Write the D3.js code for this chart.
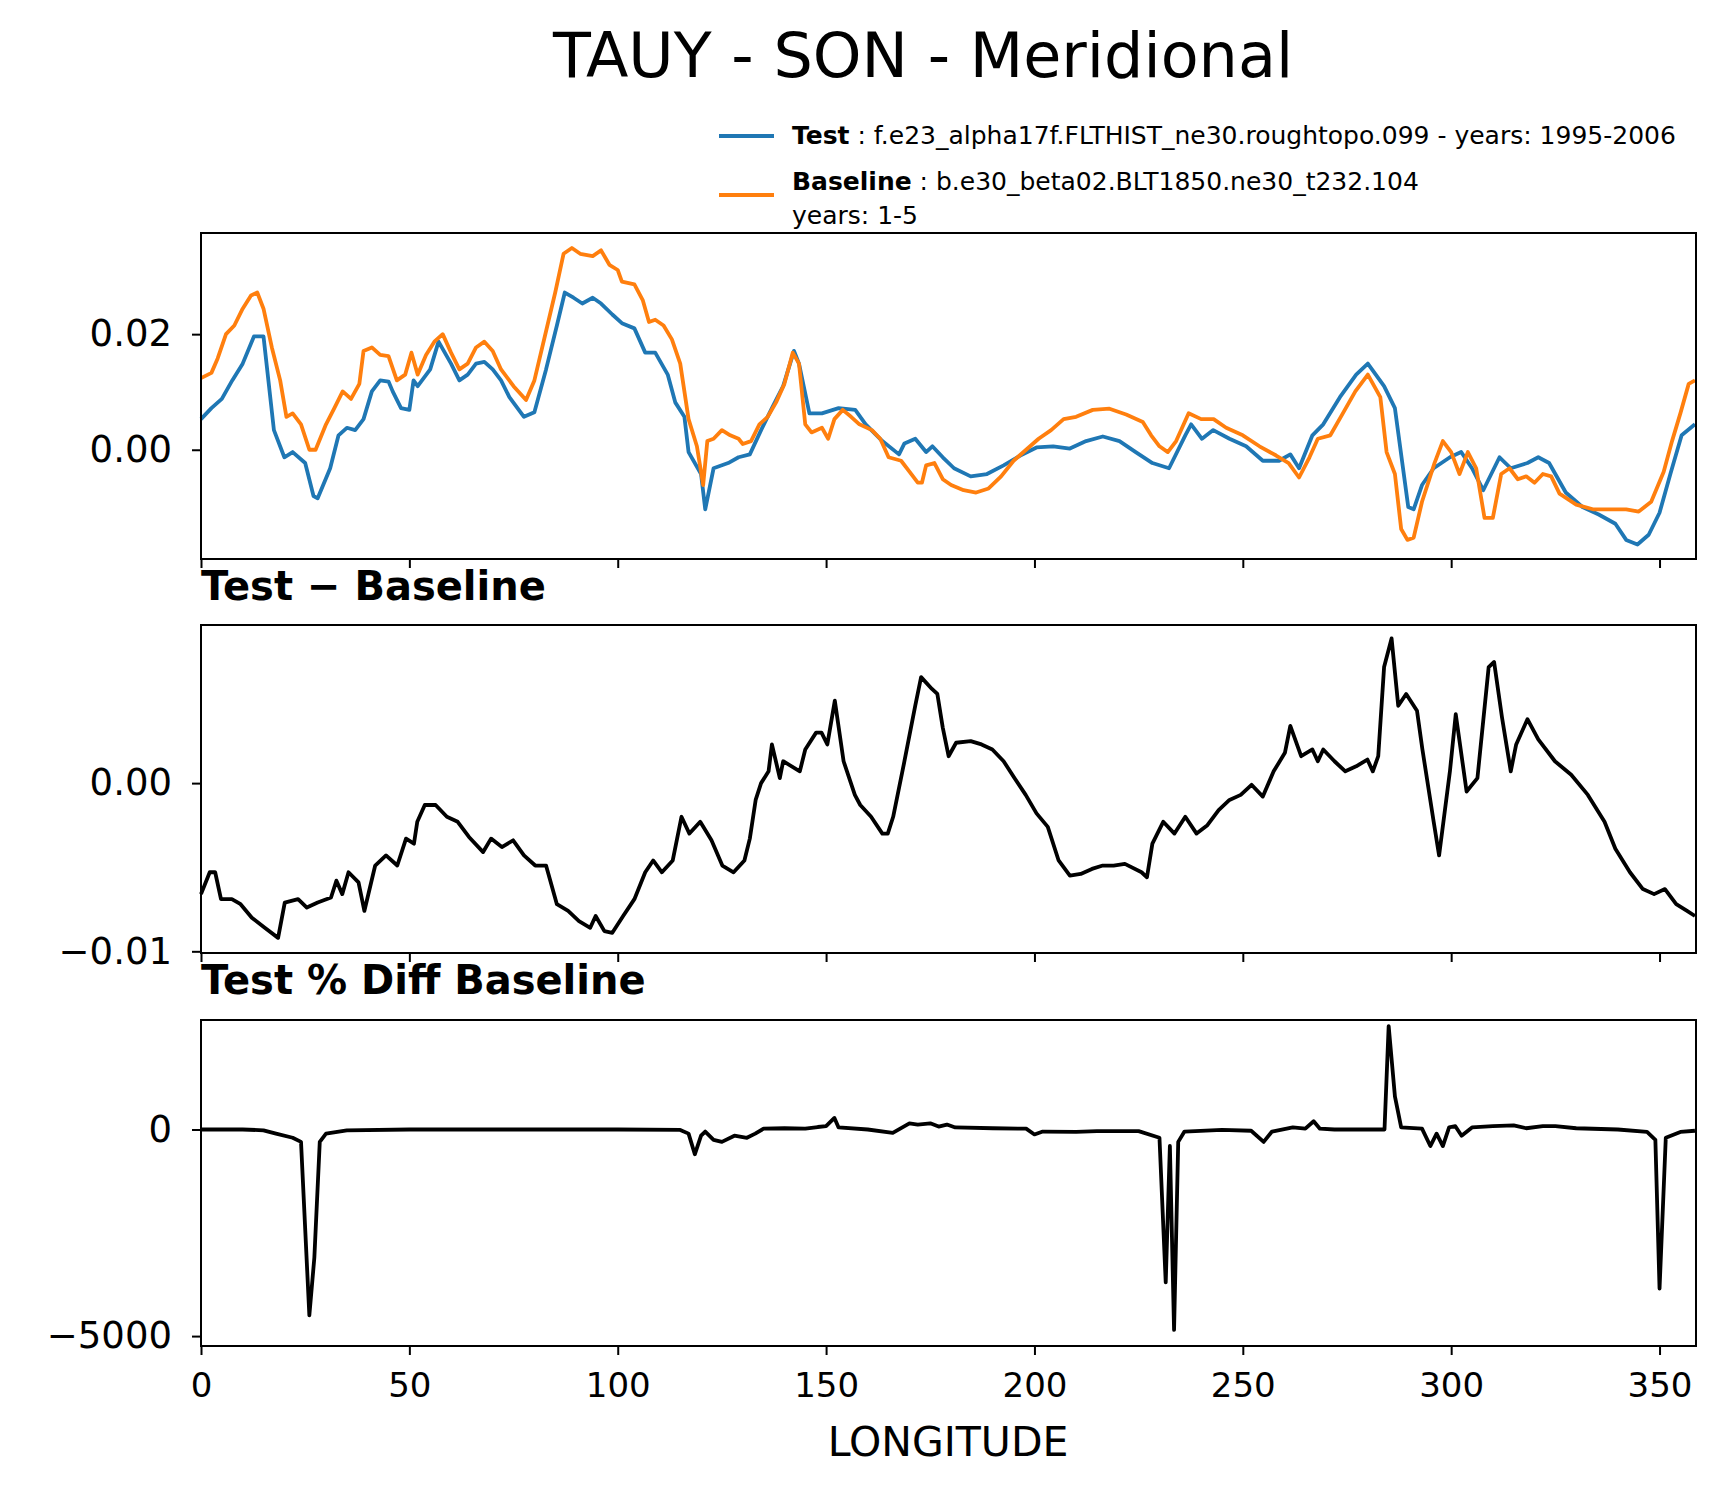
<!DOCTYPE html>
<html>
<head>
<meta charset="utf-8">
<script src="https://cdn.jsdelivr.net/npm/d3@7"></script>
<style>
  body { margin: 0; background: #fff; }
  svg { display: block; font-family: "DejaVu Sans", sans-serif; }
</style>
</head>
<body>
<svg id="chart" width="1721" height="1496"></svg>
<script>
// --- data ---
const testLon = [0,2.5,5,7.5,10,12.7,15,17.5,20,22,25,27,28,31,33,35,37,39,41,43,45,46,48,50,51,52,55,57,60,62,64,66,68,70,72,74,77.5,80,82.8,85.4,87.3,89.4,91.5,94,96,98.7,101,104,106.6,109,112,113.8,116,117,120,121,123,126.5,129,131.7,134.4,137,139.7,142.3,143.5,146,149,153,157,159.5,163.5,167.5,168.8,171.4,174,175.5,178,180.7,184.7,188.6,192.6,196.6,200.5,204.5,208.5,212.4,216.4,220.4,224.3,228.3,232.3,236.2,237.6,240.2,242.9,246.8,250.8,254.8,258.7,261.4,263.5,266.7,269.3,273.3,277.2,280,283.9,286.5,289.7,291,293,295.8,299.7,302.4,305,307.7,311.6,314.3,318.3,320.9,323.5,327.5,331.5,335.4,339.4,342,344.7,347.4,350,352.6,355.3,358.5];
const testVal = [0.0053,0.0072,0.0088,0.0120,0.0149,0.0196,0.0196,0.0034,-0.0013,-0.0004,-0.0023,-0.0080,-0.0084,-0.0032,0.0025,0.0038,0.0034,0.0053,0.0101,0.0120,0.0118,0.0101,0.0072,0.0069,0.0120,0.0110,0.0139,0.0187,0.0149,0.0120,0.0130,0.0149,0.0152,0.0139,0.0120,0.0091,0.0057,0.0065,0.0139,0.0215,0.0272,0.0263,0.0253,0.0263,0.0253,0.0234,0.0219,0.0210,0.0168,0.0168,0.0130,0.0082,0.0057,-0.0004,-0.0042,-0.0103,-0.0032,-0.0023,-0.0013,-0.0008,0.0034,0.0072,0.0110,0.0171,0.0149,0.0063,0.0063,0.0072,0.0069,0.0044,0.0015,-0.0008,0.0011,0.0019,-0.0004,0.0006,-0.0013,-0.0032,-0.0046,-0.0042,-0.0027,-0.0010,0.0004,0.0006,0.0002,0.0015,0.0023,0.0015,-0.0004,-0.0023,-0.0032,0.0025,0.0044,0.0019,0.0034,0.0019,0.0006,-0.0019,-0.0019,-0.0008,-0.0032,0.0025,0.0044,0.0091,0.0130,0.0149,0.0110,0.0072,-0.0099,-0.0103,-0.0061,-0.0032,-0.0013,-0.0004,-0.0032,-0.0070,-0.0013,-0.0032,-0.0023,-0.0013,-0.0023,-0.0074,-0.0099,-0.0112,-0.0128,-0.0156,-0.0164,-0.0147,-0.0109,-0.0042,0.0025,0.0044];

const baseLon = [0,2.5,4,6,8,10,12,13.5,15,17,19,20.5,22,24,26,27.5,30,32,34,36,38,39,41,43,45,47,49,50.5,52,54,56,58,60,62,64,66,68,70,72,75,78,80,82.5,85,87,89,91,94,96,98,100,101,104,106,107.5,109,111,113,115,117,119,120.5,121.5,123,125,127,129,130,132,134,136,138,140,142,143.5,145,146.5,149,150.5,152,154,156,158,161,163,165,168,170,172,173,174,176,178,180,183,186,189,192,195,198,201,204,207,210,214,218,222,226,228,230,232,234,237,240,243,246,250,254,258,261,263.5,266,268,271,274,277,280,283,284.5,286.5,288,289.5,291,293,296,298,300,302,304,306,308,310,312,314,316,318,320,322,324,326,330,334,338,342,345,348,351,353,355,357,358.5];
const baseVal = [0.0124,0.0133,0.0158,0.0200,0.0215,0.0244,0.0267,0.0272,0.0244,0.0177,0.0120,0.0057,0.0063,0.0044,0.0,0.0,0.0044,0.0072,0.0101,0.0088,0.0114,0.0171,0.0177,0.0164,0.0162,0.0120,0.0130,0.0168,0.0130,0.0164,0.0187,0.0200,0.0168,0.0139,0.0149,0.0177,0.0187,0.0171,0.0139,0.0110,0.0086,0.0120,0.0196,0.0272,0.0339,0.0349,0.0339,0.0335,0.0345,0.0320,0.0311,0.0291,0.0286,0.0259,0.0221,0.0225,0.0215,0.0191,0.0149,0.0053,0.0006,-0.0061,0.0015,0.0019,0.0034,0.0025,0.0019,0.0010,0.0015,0.0044,0.0057,0.0082,0.0114,0.0168,0.0149,0.0044,0.0030,0.0038,0.0019,0.0053,0.0069,0.0057,0.0044,0.0034,0.0019,-0.0013,-0.0019,-0.0038,-0.0057,-0.0057,-0.0027,-0.0023,-0.0051,-0.0061,-0.0070,-0.0074,-0.0067,-0.0046,-0.0019,0.0,0.0019,0.0034,0.0053,0.0057,0.0069,0.0071,0.0061,0.0048,0.0025,0.0006,-0.0004,0.0015,0.0063,0.0053,0.0053,0.0038,0.0025,0.0006,-0.0010,-0.0023,-0.0048,-0.0013,0.0019,0.0025,0.0063,0.0101,0.0130,0.0091,-0.0004,-0.0042,-0.0137,-0.0156,-0.0152,-0.0090,-0.0023,0.0015,-0.0004,-0.0042,-0.0004,-0.0032,-0.0118,-0.0118,-0.0042,-0.0032,-0.0051,-0.0046,-0.0057,-0.0042,-0.0046,-0.0076,-0.0095,-0.0103,-0.0103,-0.0103,-0.0107,-0.0090,-0.0038,0.0015,0.0063,0.0114,0.0120];

const diffLon = [0,2.1,3.4,4.8,7.4,9.5,12.2,15.3,18.5,20.1,23.3,25.4,28,31.2,32.5,33.9,35.4,37.8,39.2,41.8,44.4,47.1,49.2,51.1,51.9,53.7,56.3,59,61.6,64.3,67.7,69.6,72.2,74.9,77.5,80.2,82.8,85.4,88.1,90.7,93.4,94.7,96.8,98.7,101.3,104,106.6,108.5,110.6,113.2,115.3,117.2,119.8,122.5,125.1,127.8,130.4,131.7,133.1,134.4,136.2,137,138.9,139.7,143.7,145,147.6,148.9,150.3,152.1,154.2,156.9,158.2,160.8,163.5,164.8,166.1,168.8,171.4,172.8,175.4,176.7,178,179.4,181.2,184.7,187.3,189.9,192.6,195.2,197.9,200.5,203.2,205.8,208.5,211.1,213.8,216.4,219,221.7,225.7,227,228.3,230.9,233.6,236.2,238.9,241.5,244.2,246.8,249.5,252.1,254.8,257.4,260.1,261.4,264,266.7,268,269.3,272,274.6,277.2,279.9,281.2,282.5,283.9,285.7,287.3,289.2,291.8,293.1,295.8,297.1,299.7,301.1,303.7,306.3,309,310.3,312.2,314.3,315.6,318.3,320.9,324.9,328.8,332.8,336.8,339.4,342.9,346,348.7,351.3,354,356.6,358.5];
const diffVal = [-0.0066,-0.0053,-0.0053,-0.0069,-0.0069,-0.0072,-0.0080,-0.0086,-0.0092,-0.0071,-0.0069,-0.0074,-0.0071,-0.0068,-0.0058,-0.0066,-0.0053,-0.0059,-0.0076,-0.0049,-0.0043,-0.0049,-0.0033,-0.0036,-0.0023,-0.0013,-0.0013,-0.0020,-0.0023,-0.0032,-0.0041,-0.0033,-0.0038,-0.0034,-0.0043,-0.0049,-0.0049,-0.0072,-0.0076,-0.0082,-0.0086,-0.0079,-0.0088,-0.0089,-0.0079,-0.0069,-0.0053,-0.0046,-0.0053,-0.0046,-0.0020,-0.0030,-0.0023,-0.0034,-0.0049,-0.0053,-0.0046,-0.0033,-0.0010,0.0,0.0007,0.0023,0.0003,0.0013,0.0007,0.0020,0.0030,0.0030,0.0023,0.0049,0.0013,-0.0007,-0.0013,-0.0020,-0.0030,-0.0030,-0.0020,0.0013,0.0046,0.0063,0.0056,0.0053,0.0033,0.0016,0.0024,0.0025,0.0023,0.0020,0.0013,0.0003,-0.0007,-0.0018,-0.0026,-0.0046,-0.0055,-0.0054,-0.0051,-0.0049,-0.0049,-0.0048,-0.0053,-0.0056,-0.0036,-0.0023,-0.0030,-0.0020,-0.0030,-0.0025,-0.0016,-0.0010,-0.0007,-0.0001,-0.0008,0.0007,0.0018,0.0034,0.0016,0.0020,0.0013,0.0020,0.0013,0.0007,0.0010,0.0014,0.0007,0.0016,0.0069,0.0086,0.0046,0.0053,0.0043,0.0020,-0.0023,-0.0043,0.0007,0.0041,-0.0005,0.0003,0.0069,0.0072,0.0039,0.0007,0.0023,0.0038,0.0026,0.0013,0.0005,-0.0007,-0.0023,-0.0039,-0.0053,-0.0063,-0.0066,-0.0063,-0.0072,-0.0076,-0.0079];

const pctLon = [0,10,15,18,22,24,26,27.2,28.5,30,35,50,100,115,117,118.5,120,121,123,125,128,131,133,135,140,145,148,150,152,153,160,166,170,172,175,177,179,181,190,198,200,202,210,215,225,230,231.5,232.5,233.5,234.5,236,245,252,255,257,262,265,267,268.5,272,284,285,286.5,288,293,295,296.5,298,299.5,301,302.5,305,310,315,318,322,325,330,340,347,349,350,351.5,355,358.5];
const pctVal = [0,0,-20,-100,-200,-300,-4500,-3100,-300,-100,-20,0,0,-10,-100,-600,-150,-50,-250,-300,-150,-200,-100,20,30,20,60,80,280,50,0,-80,150,120,150,70,120,50,30,20,-120,-50,-60,-40,-40,-200,-3700,-400,-4850,-300,-50,-10,-30,-300,-50,50,20,200,20,0,0,2500,800,50,20,-400,-100,-400,50,80,-150,50,80,100,30,80,80,30,0,-60,-250,-3850,-200,-60,-30];

const xTicks = [0,50,100,150,200,250,300,350];
const topTicks = [0.00,0.02];
const diffTicks = [-0.01,0.00];
const pctTicks = [-5000,0];

// --- layout ---
const svg = d3.select("#chart");
const left = 201, right = 1696;
const panels = [
  { top: 233, bottom: 559, domain: [-0.0189, 0.0375], ticks: topTicks, fmt: d3.format(".2f") },
  { top: 625, bottom: 953, domain: [-0.0101, 0.0094], ticks: diffTicks, fmt: d3.format(".2f") },
  { top: 1020, bottom: 1346, domain: [-5240, 2650], ticks: pctTicks, fmt: d3.format("d") }
];

const x = d3.scaleLinear().domain([0, 358.75]).range([left, right]);

svg.append("text").attr("x", 923).attr("y", 77).attr("text-anchor", "middle")
  .attr("font-size", 62).text("TAUY - SON - Meridional");

const minus = s => s.replace("-", "\u2212");

panels.forEach((p, i) => {
  p.y = d3.scaleLinear().domain(p.domain).range([p.bottom, p.top]);
  const g = svg.append("g");
  g.append("g").attr("transform", `translate(0,${p.bottom})`)
    .call(d3.axisBottom(x).tickValues(xTicks).tickSize(9).tickPadding(18)
      .tickFormat(i === 2 ? d3.format("d") : ""))
    .selectAll(".tick text").attr("font-size", 34);
  g.append("g").attr("transform", `translate(${left},0)`)
    .call(d3.axisLeft(p.y).tickValues(p.ticks).tickSize(9).tickPadding(20)
      .tickFormat(d => minus(p.fmt(d))))
    .selectAll(".tick text").attr("font-size", 37);
  g.selectAll(".domain").remove();
  g.selectAll(".tick line").attr("stroke", "#000").attr("stroke-width", 2);
  g.selectAll(".tick text").attr("fill", "#000").attr("font-family", "DejaVu Sans");
  p.g = g;
});

const line = (lons, vals, y) => d3.line().x((d, i) => x(lons[i])).y(d => y(d))(vals);

const draw = (p, lons, vals, color) => {
  svg.append("path").attr("d", line(lons, vals, p.y)).attr("fill", "none")
    .attr("stroke", color).attr("stroke-width", 3.8).attr("stroke-linejoin", "round");
};

draw(panels[0], testLon, testVal, "#1f77b4");
draw(panels[0], baseLon, baseVal, "#ff7f0e");
draw(panels[1], diffLon, diffVal, "#000");
draw(panels[2], pctLon, pctVal, "#000");

panels.forEach(p => {
  svg.append("rect").attr("x", left).attr("y", p.top).attr("width", right - left)
    .attr("height", p.bottom - p.top).attr("fill", "none").attr("stroke", "#000").attr("stroke-width", 2);
});

// subplot titles
svg.append("text").attr("x", left).attr("y", 600).attr("font-size", 40)
  .attr("font-weight", "bold").text("Test \u2212 Baseline");
svg.append("text").attr("x", left).attr("y", 994).attr("font-size", 40)
  .attr("font-weight", "bold").text("Test % Diff Baseline");

svg.append("text").attr("x", 948).attr("y", 1456).attr("text-anchor", "middle")
  .attr("font-size", 41).text("LONGITUDE");

// legend
const leg = svg.append("g").attr("font-size", 25);
leg.append("line").attr("x1", 719).attr("x2", 774).attr("y1", 136).attr("y2", 136)
  .attr("stroke", "#1f77b4").attr("stroke-width", 3.8);
const t1 = leg.append("text").attr("x", 792).attr("y", 144);
t1.append("tspan").attr("font-weight", "bold").text("Test");
t1.append("tspan").text(" : f.e23_alpha17f.FLTHIST_ne30.roughtopo.099 - years: 1995-2006");
leg.append("line").attr("x1", 719).attr("x2", 774).attr("y1", 195).attr("y2", 195)
  .attr("stroke", "#ff7f0e").attr("stroke-width", 3.8);
const t2 = leg.append("text").attr("x", 792).attr("y", 190);
t2.append("tspan").attr("font-weight", "bold").text("Baseline");
t2.append("tspan").text(" : b.e30_beta02.BLT1850.ne30_t232.104");
leg.append("text").attr("x", 792).attr("y", 224).text("years: 1-5");
</script>
</body>
</html>
